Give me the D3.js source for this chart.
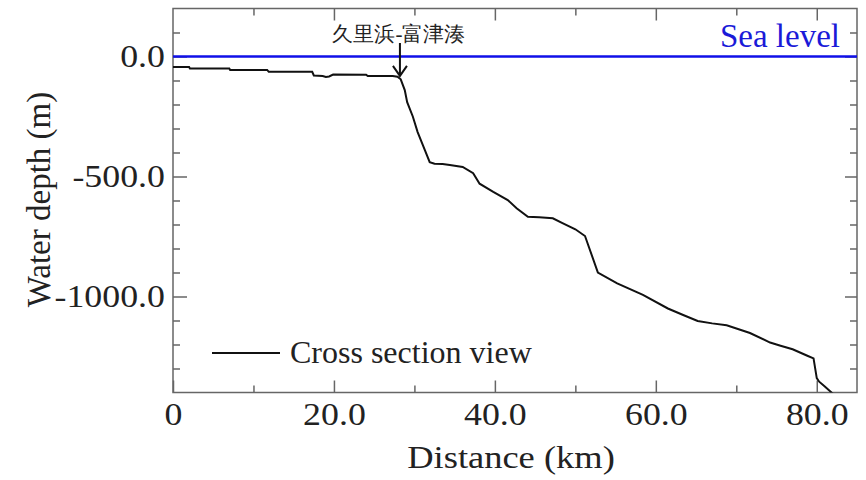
<!DOCTYPE html>
<html lang="en">
<head>
    <meta charset="UTF-8">
    <title>Cross section</title>
    <script src="https://d3js.org/d3.v7.min.js"></script>
    <style>
        body { margin: 0; background: #fff; }
        text { font-family: "Liberation Serif", "Times New Roman", serif; }
        .tick line { stroke: #666; stroke-width: 1.5; }
        .domain { display: none; }
    </style>
</head>
<body>
<script>
    const width  = 866;
    const height = 480;

    // profile
    const distanceKm = [0, 2.0, 2.1, 7.0, 7.1, 11.7, 11.9, 17.3, 17.5, 18.6, 19.0, 19.4, 19.9, 24.0, 24.2, 27.3,
                        27.9, 28.3, 28.8, 29.1, 29.8, 30.4, 31.3, 31.9, 32.5, 33.5, 34.4, 36.0, 37.3, 38.1, 39.8,
                        41.6, 42.7, 44.1, 45.5, 47.2, 48.4, 50.0, 51.2, 52.8, 55.2, 58.4, 61.5, 63.4, 65.2, 67.0,
                        68.8, 71.7, 74.2, 75.5, 77.0, 78.9, 79.6, 80.0, 80.3, 81.0, 82.0];
    const depthM     = [-44, -44, -50, -50, -56, -56, -64, -64, -79, -81, -85, -83, -75, -76, -81, -81,
                        -84, -95, -140, -190, -250, -315, -390, -440, -447, -448, -452, -460, -486, -530, -564,
                        -598, -632, -668, -670, -674, -694, -720, -748, -900, -945, -993, -1050, -1077, -1102, -1112,
                        -1120, -1152, -1192, -1205, -1220, -1248, -1258, -1340, -1355, -1375, -1405];

    const xMajor = [0, 20, 40, 60, 80];
    const xMajorLabels = ["0", "20.0", "40.0", "60.0", "80.0"];
    const xMinor = [10, 30, 50, 70];
    const yMajor = [0, -500, -1000];
    const yMajorLabels = ["0.0", "-500.0", "-1000.0"];
    const yMinor = [100, -100, -200, -300, -400, -600, -700, -800, -900, -1100, -1200, -1300];

    const seaLevel = 0;
    const markKm = 28.2;
    const markDepth = -81;

    const pLeft = 173, pRight = 857, pTop = 8.5, pBottom = 392.5;

    const x = d3.scaleLinear().domain([0, 85]).range([pLeft, pRight]);
    const y = d3.scaleLinear().domain([-1400, 200]).range([pBottom, pTop]);

    const svg = d3.select("body").append("svg").attr("width", width).attr("height", height);

    svg.append("defs").append("clipPath").attr("id", "plot")
       .append("rect").attr("x", pLeft).attr("y", pTop).attr("width", pRight - pLeft).attr("height", pBottom - pTop);

    // ticks, all pointing inward
    function fmt(vals, labels) { return d => labels[vals.indexOf(d)]; }

    // the tick labels in the original are a little wider than the font
    function wide(g, k) {
        g.selectAll("text").attr("font-size", 32).attr("fill", "#222")
         .each(function() {
             const t = d3.select(this);
             const tx = +t.attr("x") || 0;
             t.attr("x", tx / k).attr("transform", `scale(${k},1)`);
         });
    }

    svg.append("g").attr("transform", `translate(0,${pBottom})`)
       .call(d3.axisBottom(x).tickValues(xMajor).tickFormat(fmt(xMajor, xMajorLabels)).tickSizeInner(-12).tickSizeOuter(0).tickPadding(10))
       .call(g => wide(g, 1.12));
    svg.append("g").attr("transform", `translate(0,${pBottom})`)
       .call(d3.axisBottom(x).tickValues(xMinor).tickFormat("").tickSizeInner(-7).tickSizeOuter(0));
    svg.append("g").attr("transform", `translate(0,${pTop})`)
       .call(d3.axisTop(x).tickValues(xMajor.slice(1)).tickFormat("").tickSizeInner(-12).tickSizeOuter(0));
    svg.append("g").attr("transform", `translate(0,${pTop})`)
       .call(d3.axisTop(x).tickValues(xMinor).tickFormat("").tickSizeInner(-7).tickSizeOuter(0));

    svg.append("g").attr("transform", `translate(${pLeft},0)`)
       .call(d3.axisLeft(y).tickValues(yMajor).tickFormat(fmt(yMajor, yMajorLabels)).tickSizeInner(-14).tickSizeOuter(0).tickPadding(8))
       .call(g => wide(g, 1.12));
    svg.append("g").attr("transform", `translate(${pLeft},0)`)
       .call(d3.axisLeft(y).tickValues(yMinor).tickFormat("").tickSizeInner(-7).tickSizeOuter(0));
    svg.append("g").attr("transform", `translate(${pRight},0)`)
       .call(d3.axisRight(y).tickValues(yMajor).tickFormat("").tickSizeInner(-12).tickSizeOuter(0));
    svg.append("g").attr("transform", `translate(${pRight},0)`)
       .call(d3.axisRight(y).tickValues(yMinor).tickFormat("").tickSizeInner(-7).tickSizeOuter(0));

    svg.append("rect")
       .attr("x", pLeft).attr("y", pTop).attr("width", pRight - pLeft).attr("height", pBottom - pTop)
       .attr("fill", "none").attr("stroke", "#666").attr("stroke-width", 1.5);

    // sea level
    svg.append("line")
       .attr("x1", pLeft).attr("x2", pRight).attr("y1", y(seaLevel)).attr("y2", y(seaLevel))
       .attr("stroke", "#1010e8").attr("stroke-width", 2.5);
    svg.append("text").attr("x", 840).attr("y", 47).attr("text-anchor", "end")
       .attr("font-size", 33).attr("fill", "#1a1ad8").text("Sea level");

    // profile
    const line = d3.line().x((d, i) => x(distanceKm[i])).y(d => y(d));
    svg.append("path").datum(depthM)
       .attr("d", line).attr("clip-path", "url(#plot)")
       .attr("fill", "none").attr("stroke", "#111").attr("stroke-width", 2);

    // annotation arrow
    const ax = x(markKm), tipY = y(markDepth);
    svg.append("path")
       .attr("d", `M${ax},43 L${ax},${tipY} M${ax - 7},${tipY - 10} L${ax},${tipY} L${ax + 7},${tipY - 10}`)
       .attr("fill", "none").attr("stroke", "#111").attr("stroke-width", 2);
    svg.append("text").attr("x", ax - 1).attr("y", 41).attr("text-anchor", "middle")
       .attr("font-family", "'Noto Sans CJK JP', sans-serif").attr("font-size", 21).attr("fill", "#222")
       .text("久里浜-富津湊");

    // legend
    svg.append("line").attr("x1", 212).attr("x2", 280).attr("y1", 353).attr("y2", 353)
       .attr("stroke", "#111").attr("stroke-width", 2);
    svg.append("text").attr("x", 290).attr("y", 363).attr("font-size", 32).attr("fill", "#222")
       .text("Cross section view");

    // axis titles
    const cx = (pLeft + pRight) / 2 - 4;
    svg.append("text").attr("transform", `translate(${cx},468) scale(1.14,1)`).attr("text-anchor", "middle")
       .attr("font-size", 32).attr("fill", "#222").text("Distance (km)");
    svg.append("text").attr("transform", `translate(50,${(pTop + pBottom) / 2 - 1}) rotate(-90)`)
       .attr("text-anchor", "middle").attr("font-size", 33).attr("fill", "#222").text("Water depth (m)");
</script>
</body>
</html>
